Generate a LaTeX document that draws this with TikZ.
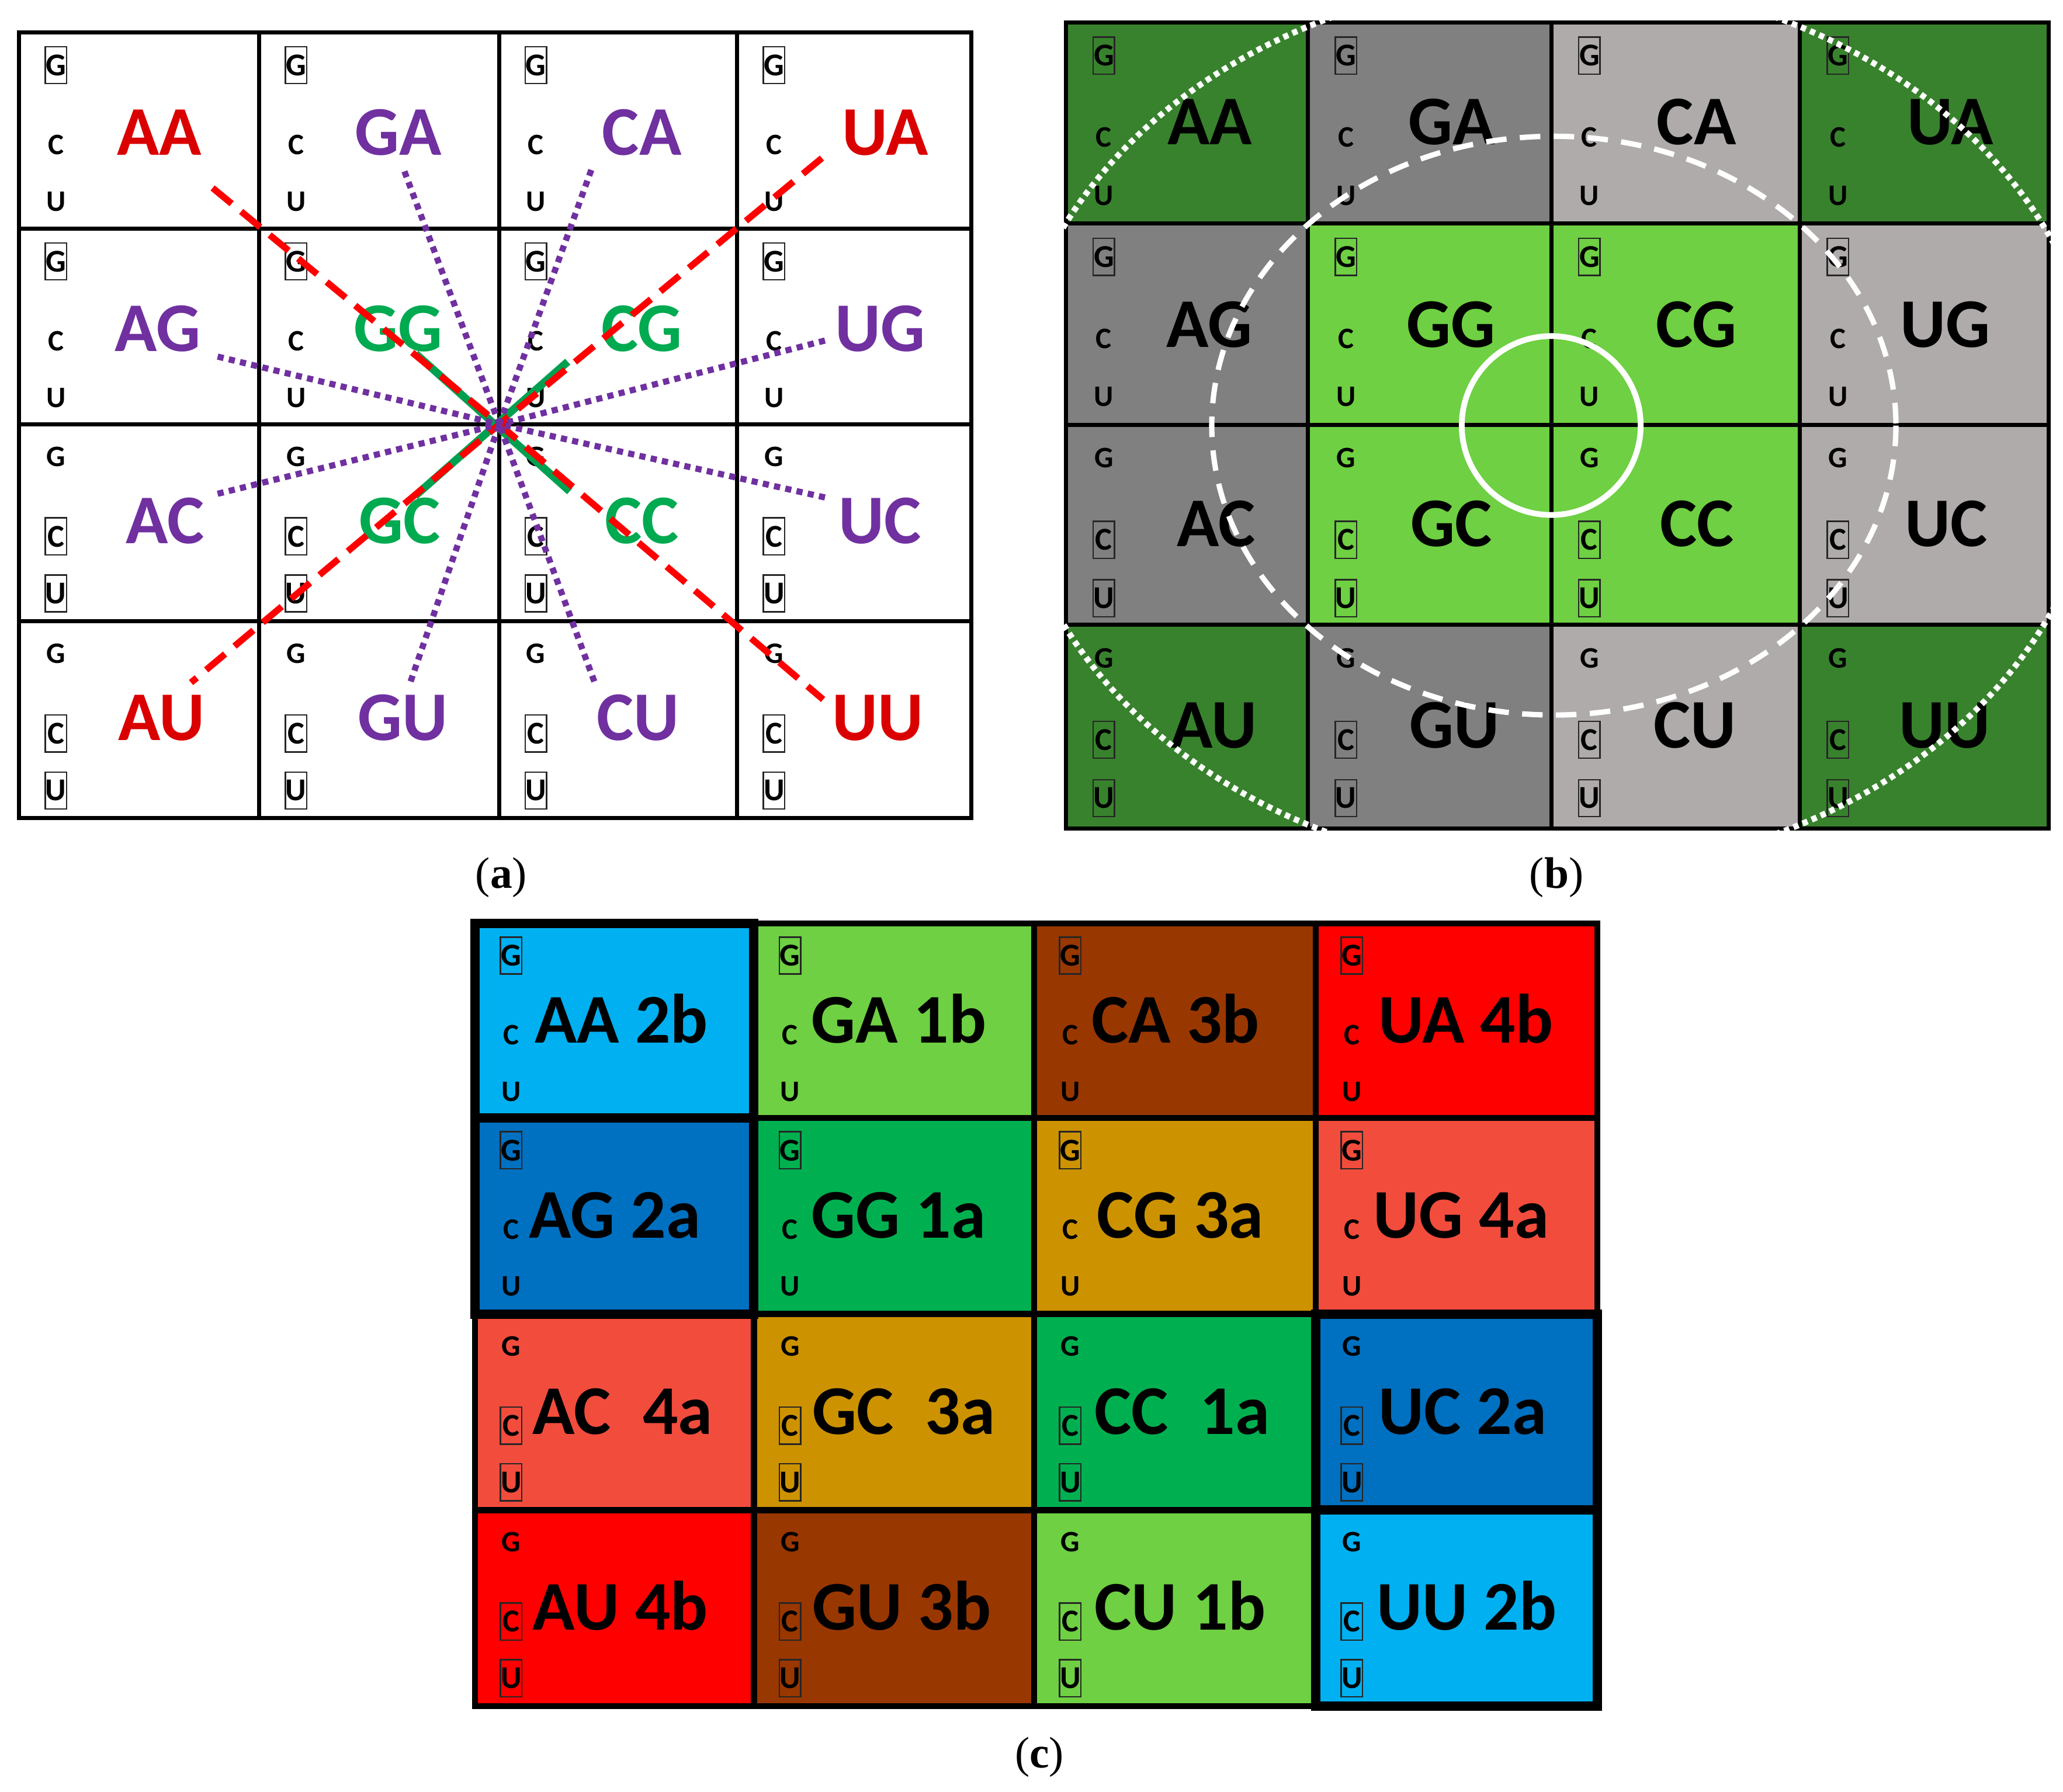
\documentclass[tikz,border=0pt]{standalone}
\usepackage{fontspec}
\setmainfont{Liberation Serif}
\newfontfamily\cellfont{Carlito}

% colours of the three panels
\definecolor{redtext}{RGB}{218,0,0}
\definecolor{purpletext}{RGB}{112,48,160}
\definecolor{greentext}{RGB}{0,170,80}
\definecolor{dashred}{RGB}{255,0,0}
\definecolor{purpleline}{RGB}{112,48,160}
\definecolor{greenline}{RGB}{0,160,80}
\definecolor{darkgreen}{RGB}{56,130,45}
\definecolor{darkgrey}{RGB}{128,128,128}
\definecolor{lightgrey}{RGB}{176,171,171}
\definecolor{brightgreen}{RGB}{110,208,66}
\definecolor{skyblue}{RGB}{0,176,240}
\definecolor{deepblue}{RGB}{0,112,192}
\definecolor{leafgreen}{RGB}{110,208,66}
\definecolor{grassgreen}{RGB}{0,176,80}
\definecolor{rust}{RGB}{153,55,0}
\definecolor{gold}{RGB}{204,146,0}
\definecolor{pure}{RGB}{255,0,0}
\definecolor{salmon}{RGB}{242,76,61}

\tikzset{
  gridline/.style={line width=2pt},
  cline/.style={line width=3pt},
  cthick/.style={line width=4.6pt},
  smallletter/.style={inner sep=0pt, minimum width=10.4pt, minimum height=18pt,
    font=\cellfont\bfseries\fontsize{14.5pt}{14.5pt}\selectfont},
  boxletter/.style={smallletter, draw=black!85, line width=0.7pt,
    font=\cellfont\bfseries\fontsize{15.5pt}{15.5pt}\selectfont},
  pairlabel/.style={inner sep=0pt, anchor=base,
    font=\cellfont\bfseries\fontsize{34pt}{34pt}\selectfont},
  grouplabel/.style={pairlabel, anchor=base west},
  panellabel/.style={inner sep=0pt, anchor=base, font=\fontsize{21.5pt}{21.5pt}\selectfont},
  dashedred/.style={draw=dashred, line width=3.2pt, dash pattern=on 12pt off 6pt},
  dottedpurple/.style={draw=purpleline, line width=3pt, dash pattern=on 3pt off 2.6pt},
  solidgreen/.style={draw=greenline, line width=3.8pt},
  whitering/.style={draw=white, line width=2.8pt},
  whitedash/.style={draw=white, line width=2.6pt, dash pattern=on 10pt off 6.5pt},
  whitedots/.style={draw=white, line width=2.9pt, dash pattern=on 2.6pt off 2.2pt},
}

\begin{document}
\begin{tikzpicture}[x=0.02252cm,y=-0.02252cm]
\useasboundingbox (0,0) rectangle (1568,1362);

% Drawing panel (a): grid
\foreach \x/\xx in {14.5/197,197/379.3,379.3/560.3,560.3/738.4}
  \foreach \y/\yy in {24.8/174,174/322.6,322.6/472.4,472.4/621.7}
    \draw[gridline] (\x,\y) rectangle (\xx,\yy);%

% Drawing panel (a): G C U letters
\foreach \x [count=\c] in {14.5,197,379.3,560.3}
  \foreach \y/\gs/\cs [count=\r] in {24.8/boxletter/smallletter,174/boxletter/smallletter,322.6/smallletter/boxletter,472.4/smallletter/boxletter}{
    \node[\gs] (a-g\r\c) at (\x+28,\y+24.7) {G};%
    \node[\cs] (a-c\r\c) at (\x+28,\y+85.2) {C};%
    \node[\cs] (a-u\r\c) at (\x+28,\y+128.6) {U};%
  }

% Drawing panel (a): pairs
\node[pairlabel, text=redtext] (aAA) at (121,117.8) {AA};%
\node[pairlabel, text=purpletext] (aGA) at (302.7,117.8) {GA};%
\node[pairlabel, text=purpletext] (aCA) at (487.9,117.8) {CA};%
\node[pairlabel, text=redtext] (aUA) at (672.9,117.8) {UA};%
\node[pairlabel, text=purpletext] (aAG) at (120,267.2) {AG};%
\node[pairlabel, text=greentext] (aGG) at (302.7,267.2) {GG};%
\node[pairlabel, text=greentext] (aCG) at (487.9,267.2) {CG};%
\node[pairlabel, text=purpletext] (aUG) at (668.9,267.2) {UG};%
\node[pairlabel, text=purpletext] (aAC) at (125.4,413.2) {AC};%
\node[pairlabel, text=greentext] (aGC) at (303.9,413.2) {GC};%
\node[pairlabel, text=greentext] (aCC) at (487.9,413.2) {CC};%
\node[pairlabel, text=purpletext] (aUC) at (668.9,413.2) {UC};%
\node[pairlabel, text=redtext] (aAU) at (122.9,562.8) {AU};%
\node[pairlabel, text=purpletext] (aGU) at (306.2,562.8) {GU};%
\node[pairlabel, text=purpletext] (aCU) at (484.9,562.8) {CU};%
\node[pairlabel, text=redtext] (aUU) at (667.2,562.8) {UU};%

% Drawing panel (a): lines to the centre
\coordinate (amid) at (379.5,322.6);
\coordinate (aGGend) at (316,269);
\coordinate (aCGend) at (431.5,275);
\coordinate (aGCend) at (315.5,377);
\coordinate (aCCend) at (433,373.5);
\coordinate (aAAend) at (161.6,142.9);
\coordinate (aUAend) at (624.7,120.2);
\coordinate (aAUend) at (145.2,518.9);
\coordinate (aUUend) at (625.6,531.8);
\coordinate (aGAend) at (307.4,130.3);
\coordinate (aCAend) at (449.4,129.2);
\coordinate (aAGend) at (165.4,271.1);
\coordinate (aUGend) at (627,258.9);
\coordinate (aACend) at (165.4,375.4);
\coordinate (aUCend) at (627,378.2);
\coordinate (aGUend) at (312.1,518.1);
\coordinate (aCUend) at (451.7,518.1);
\draw[solidgreen] (aGGend) -- (aCCend);%
\draw[solidgreen] (aCGend) -- (aGCend);%
\draw[dashedred] (aAAend) -- (amid) -- (aUUend);%
\draw[dashedred] (aUAend) -- (amid) -- (aAUend);%
\foreach \e in {aGAend,aCAend,aAGend,aUGend,aACend,aUCend,aGUend,aCUend}
  \draw[dottedpurple] (\e) -- (amid);%

% Drawing panel (b): coloured cells
\foreach \x/\xx/\y/\yy/\col in {
  810/994/17/170/darkgreen, 994/1179/17/170/darkgrey, 1179/1368/17/170/lightgrey, 1368/1557/17/170/darkgreen,
  810/994/170/323/darkgrey, 994/1179/170/323/brightgreen, 1179/1368/170/323/brightgreen, 1368/1557/170/323/lightgrey,
  810/994/323/475/darkgrey, 994/1179/323/475/brightgreen, 1179/1368/323/475/brightgreen, 1368/1557/323/475/lightgrey,
  810/994/475/630/darkgreen, 994/1179/475/630/darkgrey, 1179/1368/475/630/lightgrey, 1368/1557/475/630/darkgreen}
  \filldraw[fill=\col, draw=black, gridline] (\x,\y) rectangle (\xx,\yy);%

% Drawing panel (b): G C U letters
\foreach \x [count=\c] in {810,994,1179,1368}
  \foreach \y/\gs/\cs [count=\r] in {17/boxletter/smallletter,170/boxletter/smallletter,323/smallletter/boxletter,475/smallletter/boxletter}{
    \node[\gs] (b-g\r\c) at (\x+29,\y+25.3) {G};%
    \node[\cs] (b-c\r\c) at (\x+29,\y+87.4) {C};%
    \node[\cs] (b-u\r\c) at (\x+29,\y+131.8) {U};%
  }

% Drawing panel (b): pairs
\node[pairlabel] (bAA) at (919.4,110.1) {AA};%
\node[pairlabel] (bGA) at (1103.2,110.1) {GA};%
\node[pairlabel] (bCA) at (1289.4,110.1) {CA};%
\node[pairlabel] (bUA) at (1482.3,110.1) {UA};%
\node[pairlabel] (bAG) at (919.4,264) {AG};%
\node[pairlabel] (bGG) at (1103,264) {GG};%
\node[pairlabel] (bCG) at (1289.4,264) {CG};%
\node[pairlabel] (bUG) at (1478.6,264) {UG};%
\node[pairlabel] (bAC) at (924.3,415.2) {AC};%
\node[pairlabel] (bGC) at (1103.2,415.2) {GC};%
\node[pairlabel] (bCC) at (1290,415.2) {CC};%
\node[pairlabel] (bUC) at (1479.3,415.2) {UC};%
\node[pairlabel] (bAU) at (922.6,568.7) {AU};%
\node[pairlabel] (bGU) at (1105.6,568.7) {GU};%
\node[pairlabel] (bCU) at (1288.3,568.7) {CU};%
\node[pairlabel] (bUU) at (1477.9,568.7) {UU};%

% Drawing panel (b): rings
\draw[whitering] (1179,323.5) circle [radius=68];%
\draw[whitedash] (1181,323.6) ellipse [x radius=260, y radius=220];%
\begin{scope}
  \clip (807,14) rectangle (1560,633);
  \draw[whitedots] (1181,323.6) ellipse [x radius=416, y radius=339.5];%
\end{scope}

% Drawing panel (c): coloured cells
\foreach \x/\xx/\y/\yy/\col in {
  361/573/702/850/skyblue, 573/786/702/850/leafgreen, 786/1000/702/850/rust, 1000/1214/702/850/pure,
  361/573/850/999/deepblue, 573/786/850/999/grassgreen, 786/1000/850/999/gold, 1000/1214/850/999/salmon,
  361/573/999/1148/salmon, 573/786/999/1148/gold, 786/1000/999/1148/grassgreen, 1000/1214/999/1148/deepblue,
  361/573/1148/1297/pure, 573/786/1148/1297/rust, 786/1000/1148/1297/leafgreen, 1000/1214/1148/1297/skyblue}
  \filldraw[fill=\col, draw=black, cline] (\x,\y) rectangle (\xx,\yy);%
\foreach \x/\xx/\y/\yy in {361/573/702/850, 361/573/850/999, 1000/1214/999/1148, 1000/1214/1148/1297}
  \draw[cthick] (\x,\y) rectangle (\xx,\yy);%

% Drawing panel (c): G C U letters
\foreach \x [count=\c] in {361,573,786,1000}
  \foreach \y/\gs/\cs [count=\r] in {702/boxletter/smallletter,850/boxletter/smallletter,999/smallletter/boxletter,1148/smallletter/boxletter}{
    \node[\gs] (c-g\r\c) at (\x+27.5,\y+24.5) {G};%
    \node[\cs] (c-c\r\c) at (\x+27.5,\y+84.8) {C};%
    \node[\cs] (c-u\r\c) at (\x+27.5,\y+127.9) {U};%
  }

% Drawing panel (c): pairs with groups
\node[grouplabel] (cAA) at (406.1,792.8) {AA 2b};%
\node[grouplabel] (cGA) at (616.2,792.8) {GA 1b};%
\node[grouplabel] (cCA) at (829.4,792.8) {CA 3b};%
\node[grouplabel] (cUA) at (1047.4,792.8) {UA 4b};%
\node[grouplabel] (cAG) at (401.9,941.3) {AG 2a};%
\node[grouplabel] (cGG) at (616.2,941.3) {GG 1a};%
\node[grouplabel] (cCG) at (833.6,941.3) {CG 3a};%
\node[grouplabel] (cUG) at (1043.6,941.3) {UG 4a};%
\node[grouplabel] (cAC) at (404.6,1090.3) {AC~~4a};%
\node[grouplabel] (cGC) at (617.2,1090.3) {GC~~3a};%
\node[grouplabel] (cCC) at (831.5,1090.3) {CC~~1a};%
\node[grouplabel] (cUC) at (1047.4,1090.3) {UC 2a};%
\node[grouplabel] (cAU) at (404.6,1239.3) {AU 4b};%
\node[grouplabel] (cGU) at (617.2,1239.3) {GU 3b};%
\node[grouplabel] (cCU) at (831.5,1239.3) {CU 1b};%
\node[grouplabel] (cUU) at (1046.3,1239.3) {UU 2b};%

% Panel captions
\node[panellabel] (capa) at (381,675) {(\textbf{a})};%
\node[panellabel] (capb) at (1183,675) {(\textbf{b})};%
\node[panellabel] (capc) at (790,1344) {(\textbf{c})};%
\end{tikzpicture}
\end{document}
